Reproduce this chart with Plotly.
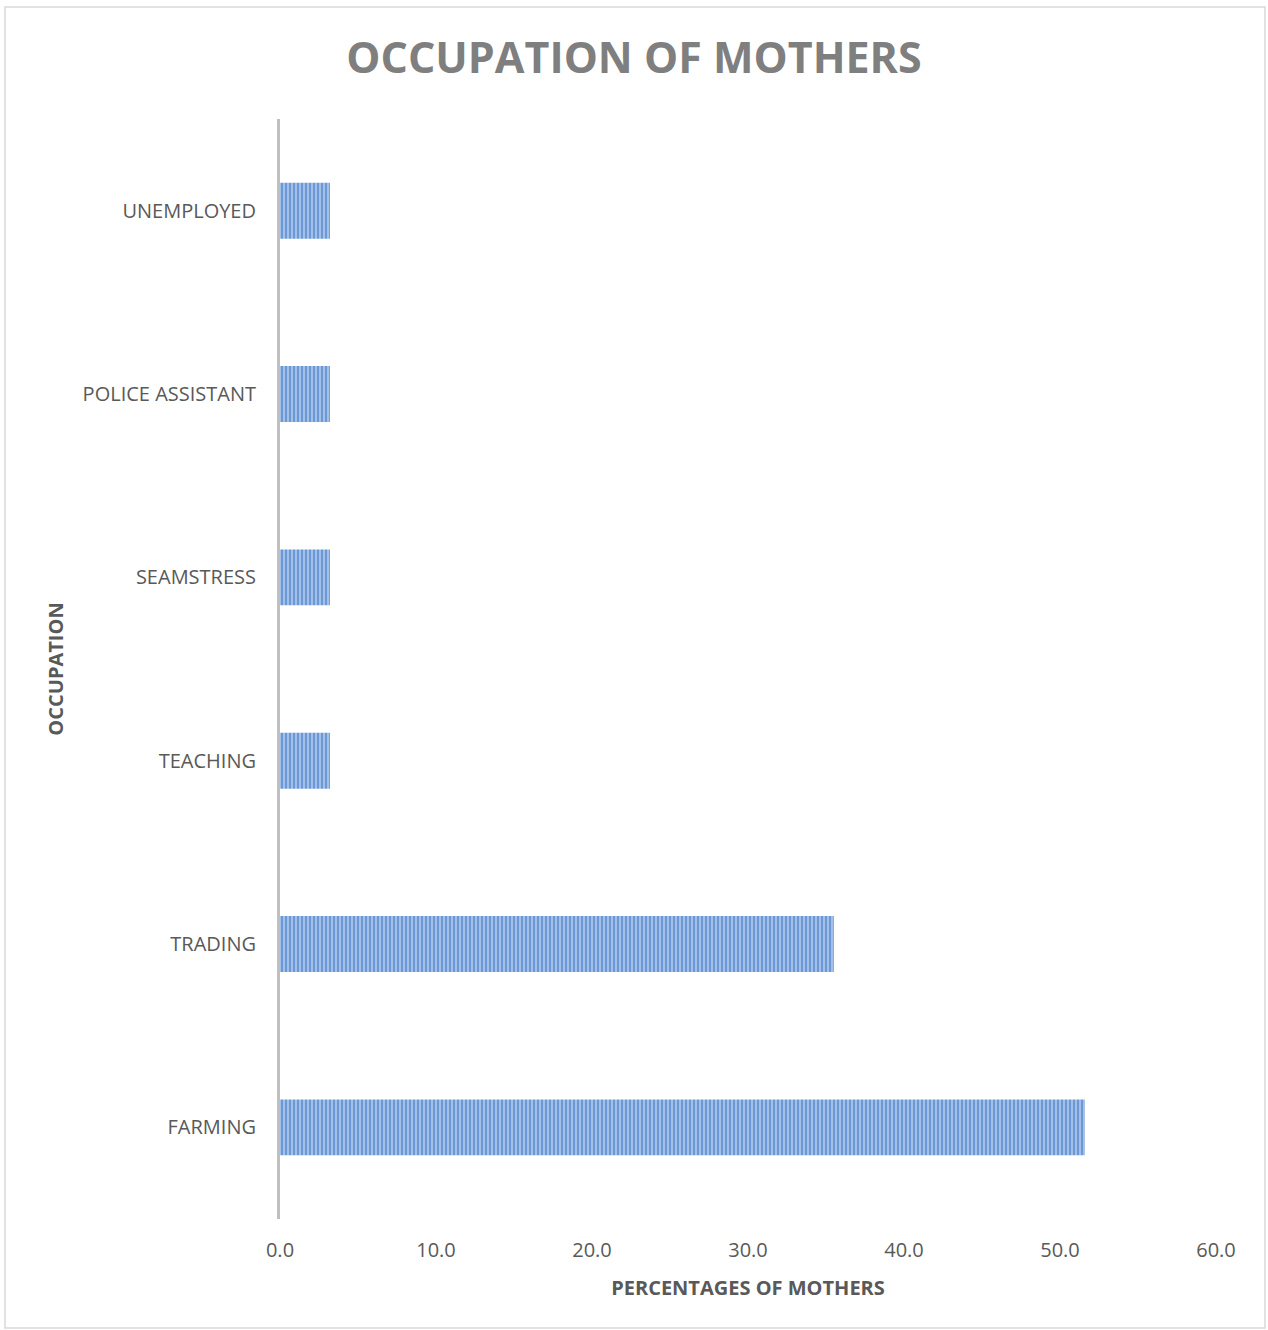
import plotly.graph_objects as go

# Occupation of mothers (percentage of respondents)
occupations = ["FARMING", "TRADING", "TEACHING", "SEAMSTRESS", "POLICE ASSISTANT", "UNEMPLOYED"]
percentages = [51.6, 35.5, 3.2, 3.2, 3.2, 3.2]
x_ticks = [0, 10, 20, 30, 40, 50, 60]
x_tick_labels = ["0.0", "10.0", "20.0", "30.0", "40.0", "50.0", "60.0"]

W, H = 1268, 1330
ML, MR, MT, MB = 280, 52, 119, 111
PW, PH = W - ML - MR, H - MT - MB

FONT = "Open Sans"
TEXT = "#595959"

fig = go.Figure(
    go.Bar(
        x=percentages,
        y=occupations,
        orientation="h",
        marker=dict(
            color="#a3bfe6",
            line=dict(width=0),
            pattern=dict(shape="|", fgcolor="#2f6bbf", bgcolor="#a9c4ea",
                         size=4, solidity=0.55, fillmode="overlay"),
        ),
        hoverinfo="x+y",
    )
)

# outer chart border
fig.add_shape(
    type="rect", xref="paper", yref="paper",
    x0=(5 - ML) / PW, x1=(1265 - ML) / PW,
    y0=(H - MB - 1328) / PH, y1=(H - MB - 7) / PH,
    line=dict(color="#d9d9d9", width=1.5), fillcolor="rgba(0,0,0,0)", layer="below",
)

fig.update_layout(
    width=W, height=H,
    margin=dict(l=ML, r=MR, t=MT, b=MB, pad=0),
    paper_bgcolor="white", plot_bgcolor="white",
    bargap=0.695,
    showlegend=False,
    title=dict(
        text="<b>OCCUPATION OF MOTHERS</b>",
        x=0.5, xref="container", xanchor="center",
        y=1 - 58 / H, yanchor="middle",
        font=dict(family=FONT, size=43, color="#7f7f7f"),
    ),
    font=dict(family=FONT, color=TEXT),
    xaxis=dict(
        range=[0, 60], tickvals=x_ticks, ticktext=x_tick_labels,
        showgrid=False, zeroline=False, showline=False,
        ticks="outside", ticklen=13, tickcolor="rgba(0,0,0,0)",
        tickfont=dict(family=FONT, size=20, color=TEXT),
        title=dict(text="<b>PERCENTAGES OF MOTHERS</b>", standoff=18,
                   font=dict(family=FONT, size=20, color=TEXT)),
        fixedrange=True,
    ),
    yaxis=dict(
        categoryorder="array", categoryarray=occupations,
        showgrid=False, zeroline=False,
        showline=True, linecolor="#bfbfbf", linewidth=3,
        ticks="outside", ticklen=17, tickcolor="rgba(0,0,0,0)",
        tickfont=dict(family=FONT, size=20, color=TEXT),
        title=dict(text="<b>OCCUPATION</b>", standoff=14,
                   font=dict(family=FONT, size=20, color=TEXT)),
        fixedrange=True,
    ),
)

fig.write_html("out.html")
